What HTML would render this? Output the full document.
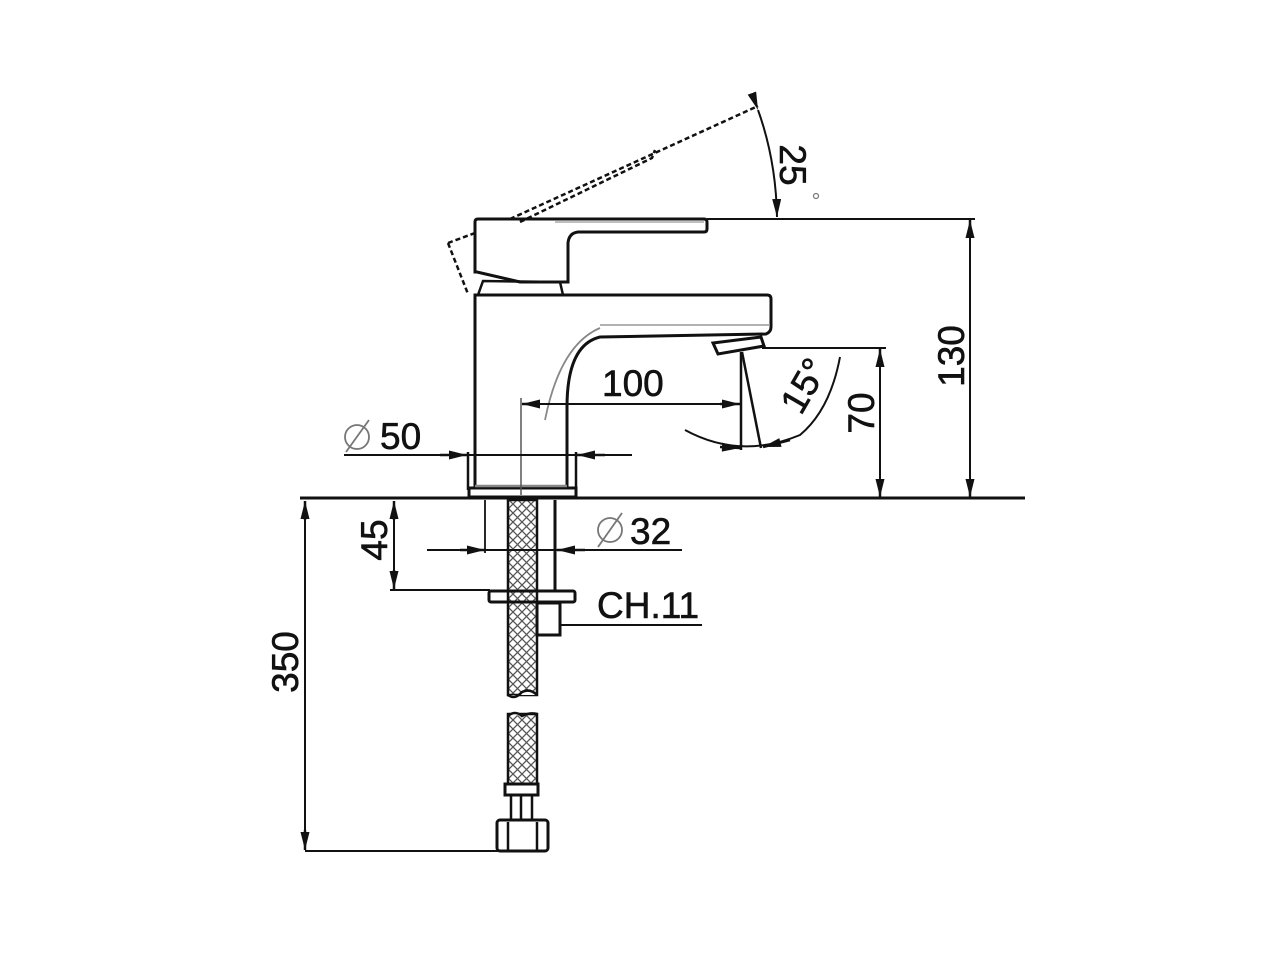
<!DOCTYPE html>
<html><head><style>
html,body{margin:0;padding:0;background:#fff;}
svg{display:block;}
text{font-family:"Liberation Sans",sans-serif;fill:#111;}
</style></head><body>
<svg width="1280" height="960" viewBox="0 0 1280 960" xmlns="http://www.w3.org/2000/svg">
<defs>
<marker id="a" viewBox="0 0 14 7" refX="14" refY="3.5" markerWidth="18" markerHeight="9" markerUnits="userSpaceOnUse" orient="auto"><path d="M0,0 L14,3.5 L0,7 Z" fill="#111"/></marker>
<marker id="b" viewBox="0 0 14 7" refX="14" refY="3.5" markerWidth="20" markerHeight="9" markerUnits="userSpaceOnUse" orient="auto"><path d="M0,0 L14,3.5 L0,7 Z" fill="#111"/></marker>
<pattern id="h" width="9" height="9" patternUnits="userSpaceOnUse"><path d="M0,0 L9,9 M9,0 L0,9" stroke="#555" stroke-width="1.3"/></pattern>
</defs>
<g fill="none" stroke="#111" stroke-width="2.5">
<line x1="300" y1="498" x2="1025" y2="498" stroke-width="3"/>
<rect x="469" y="488" width="107" height="9" stroke-width="3"/>
<line x1="468" y1="452" x2="468" y2="490"/>
<line x1="576" y1="452" x2="576" y2="490"/>
<path d="M475,487 L475,295 L767,295 Q771,295 771,299 L771,327 Q771,332 766,334 L600,337 Q567,345 567,407 L567,487" stroke-width="3"/>
<path d="M600,325 L770,325" stroke="#999" stroke-width="1.5"/>
<path d="M545,420 Q560,345 600,328" stroke="#888" stroke-width="1.8"/>
<line x1="475" y1="486" x2="567" y2="486" stroke="#888"/>
<path d="M713,343 L761,337 L764,346 L718,354 Z" stroke-width="3"/>
<path d="M478,295 L483,281 L560,282 L563,295" stroke-width="2.5"/>
<path d="M478,219 L704,219 Q707,219 707,222 L707,229 Q707,232 704,232 L578,232 Q569,233 568,243 L568,282 L520,282 L477,272 L475,272 L475,222 Q475,219 478,219 Z" stroke-width="3"/>
<path d="M555,222 L704,222" stroke="#aaa" stroke-width="1.5"/>
<path d="M448,243 L475,233 M510,219 L758,106 M520,222 L652,158 L655,150 M448,243 L468,294" stroke-dasharray="5,3" stroke-width="2.5"/>
<path d="M758,110 Q776,160 777,217" marker-start="url(#a)" marker-end="url(#a)" stroke-width="2"/>
<line x1="707" y1="219" x2="975" y2="219" stroke-width="2"/>
<line x1="970" y1="235" x2="970" y2="220" marker-end="url(#b)"/>
<line x1="970" y1="480" x2="970" y2="497" marker-end="url(#b)"/>
<line x1="970" y1="222" x2="970" y2="496" stroke-width="2"/>
<line x1="762" y1="348" x2="886" y2="348" stroke-width="2"/>
<line x1="880" y1="365" x2="880" y2="349" marker-end="url(#b)"/>
<line x1="880" y1="480" x2="880" y2="497" marker-end="url(#b)"/>
<line x1="880" y1="350" x2="880" y2="496" stroke-width="2"/>
<line x1="521" y1="398" x2="521" y2="495" stroke="#555" stroke-width="1.5"/>
<line x1="522" y1="404" x2="740" y2="404" stroke-width="2"/>
<line x1="540" y1="404" x2="522" y2="404" marker-end="url(#b)"/>
<line x1="720" y1="404" x2="740" y2="404" marker-end="url(#b)"/>
<line x1="741" y1="352" x2="741" y2="450"/>
<line x1="742" y1="352" x2="761" y2="448"/>
<path d="M685,430 Q740,460 800,435 Q830,410 840,357" stroke-width="2"/>
<line x1="720" y1="447" x2="740" y2="448" marker-end="url(#b)"/>
<line x1="790" y1="440" x2="763" y2="447" marker-end="url(#b)"/>
<line x1="344" y1="455" x2="632" y2="455" stroke-width="2"/>
<line x1="440" y1="455" x2="467" y2="455" marker-end="url(#b)"/>
<line x1="605" y1="455" x2="577" y2="455" marker-end="url(#b)"/>
<rect x="508" y="500" width="29" height="195" fill="url(#h)" stroke-width="2.5"/>
<path d="M508,695 Q515,700 522,692 Q530,688 537,695" fill="#fff" stroke-width="2.5"/>
<rect x="508" y="714" width="29" height="70" fill="url(#h)" stroke-width="2.5"/>
<path d="M508,716 Q515,710 522,716 Q530,712 537,714" fill="#fff" stroke-width="2.5"/>
<line x1="555" y1="500" x2="555" y2="590" stroke-width="3"/>
<line x1="485" y1="500" x2="485" y2="553" stroke-width="1.8"/>
<rect x="489" y="591" width="86" height="11" rx="2" stroke-width="3"/>
<rect x="537" y="603" width="23" height="32" stroke-width="3"/>
<line x1="560" y1="625" x2="702" y2="625" stroke-width="2"/>
<rect x="505" y="784" width="33" height="11" stroke-width="3"/>
<rect x="511" y="795" width="21" height="25" stroke-width="2.5"/>
<line x1="521" y1="795" x2="521" y2="820"/>
<rect x="497" y="820" width="51" height="31" rx="3" stroke-width="3"/>
<line x1="508" y1="822" x2="508" y2="850"/>
<line x1="537" y1="822" x2="537" y2="850"/>
<line x1="427" y1="550" x2="682" y2="550" stroke-width="2"/>
<line x1="460" y1="550" x2="485" y2="550" marker-end="url(#b)"/>
<line x1="585" y1="550" x2="557" y2="550" marker-end="url(#b)"/>
<line x1="390" y1="590" x2="490" y2="590" stroke-width="2"/>
<line x1="394" y1="520" x2="394" y2="501" marker-end="url(#b)"/>
<line x1="394" y1="570" x2="394" y2="589" marker-end="url(#b)"/>
<line x1="394" y1="502" x2="394" y2="588" stroke-width="2"/>
<line x1="305" y1="851" x2="500" y2="851" stroke-width="2"/>
<line x1="305" y1="520" x2="305" y2="501" marker-end="url(#b)"/>
<line x1="305" y1="830" x2="305" y2="850" marker-end="url(#b)"/>
<line x1="305" y1="502" x2="305" y2="849" stroke-width="2"/>
<circle cx="357" cy="437" r="12" stroke-width="1.8" stroke="#777"/>
<line x1="346" y1="452" x2="369" y2="420" stroke-width="1.8" stroke="#777"/>
<circle cx="610" cy="530" r="12" stroke-width="1.8" stroke="#777"/>
<line x1="598" y1="547" x2="622" y2="513" stroke-width="1.8" stroke="#777"/>
</g>
<g font-size="37" stroke="#111" stroke-width="0.6">
<text x="380" y="449">50</text>
<text x="630" y="544">32</text>
<text x="602" y="396">100</text>
<text x="597" y="618">CH.11</text>
<text transform="translate(964,356) rotate(-90)" text-anchor="middle">130</text>
<text transform="translate(874,413) rotate(-90)" text-anchor="middle">70</text>
<text transform="translate(387,540) rotate(-90)" text-anchor="middle">45</text>
<text transform="translate(298,662) rotate(-90)" text-anchor="middle">350</text>
<text transform="translate(780,165) rotate(90)" text-anchor="middle">25</text>
<text transform="translate(815,392) rotate(-60)" text-anchor="middle">15°</text>
</g>
<circle cx="816" cy="196" r="2.5" fill="none" stroke="#777" stroke-width="1.2"/>
</svg>
</body></html>
